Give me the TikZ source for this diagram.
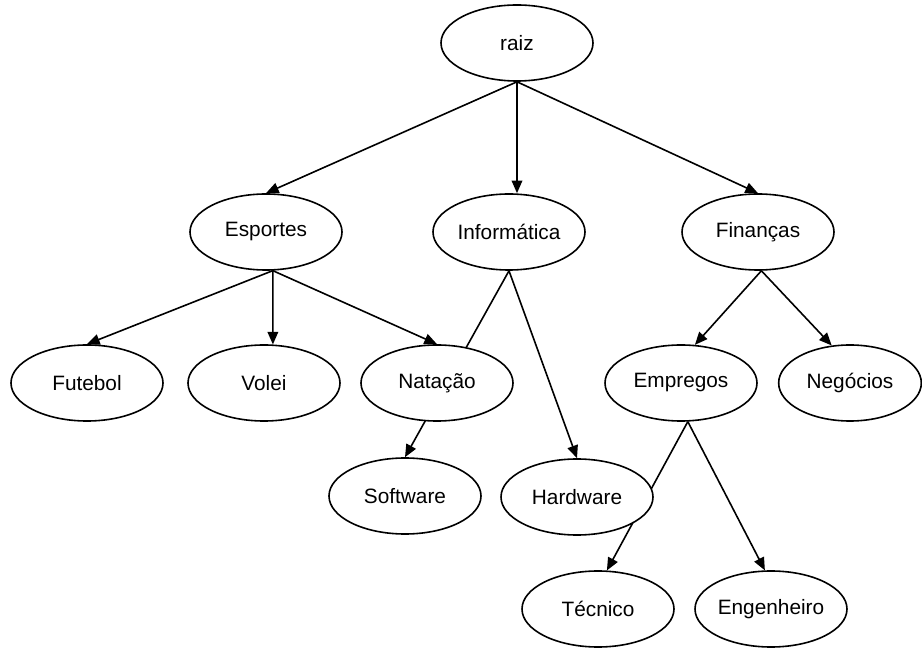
\documentclass[tikz,border=0pt]{standalone}
\usepackage{fontspec}
\setmainfont{Liberation Sans}
\usepackage{tikz}
\usetikzlibrary{arrows.meta,shapes,backgrounds}
\tikzstyle{topic} = [ellipse,draw=black,line width=1.2pt,fill=white,minimum width=114pt,minimum height=57pt,inner sep=0pt,font=\fontsize{15.6}{18}\selectfont]
\tikzstyle{arrow} = [line width=1.2pt,-{Triangle[length=9.5pt,width=8pt]}]

\begin{document}
\begin{tikzpicture}[x=0.75pt,y=-0.75pt]
\useasboundingbox (0,0) rectangle (922,648);

% Root
\node[topic] (raiz) at (517,43) {raiz};

% First level
\node[topic] (esportes) at (266,232) {Esportes};
\node[topic] (informatica) at (509,232) {Informática};
\node[topic] (financas) at (758,232) {Finanças};

% Second level
\node[topic] (futebol) at (87,383) {Futebol};
\node[topic] (volei) at (264,383) {Volei};
\node[topic] (natacao) at (437,383) {Natação};
\node[topic] (empregos) at (681,383) {Empregos};
\node[topic, minimum width=107pt] (negocios) at (850,383) {Negócios};

% Third level
\node[topic] (software) at (405,496) {Software};
\node[topic] (hardware) at (577,497) {Hardware};
\node[topic] (tecnico) at (598,609) {Técnico};
\node[topic] (engenheiro) at (771,609) {Engenheiro};

% Connectors (behind the nodes)
\begin{scope}[on background layer]
\draw[arrow] (raiz.south) -- (esportes.north);
\draw[arrow] (raiz.south) -- (raiz.south |- informatica.north);
\draw[arrow] (raiz.south) -- (financas.north);

\draw[arrow] (esportes.280) -- (futebol.north);
\draw[arrow] (esportes.280) -- (volei.77);
\draw[arrow] (esportes.280) -- (natacao.north);

\draw[arrow] (informatica.south) -- (software.north);
\draw[arrow] (informatica.south) -- (hardware.north);

\draw[arrow] (financas.275) -- (empregos.70);
\draw[arrow] (financas.275) -- (negocios.116);

\draw[arrow] (empregos.280) -- (tecnico.77);
\draw[arrow] (empregos.280) -- (engenheiro.99);
\end{scope}
\end{tikzpicture}
\end{document}
